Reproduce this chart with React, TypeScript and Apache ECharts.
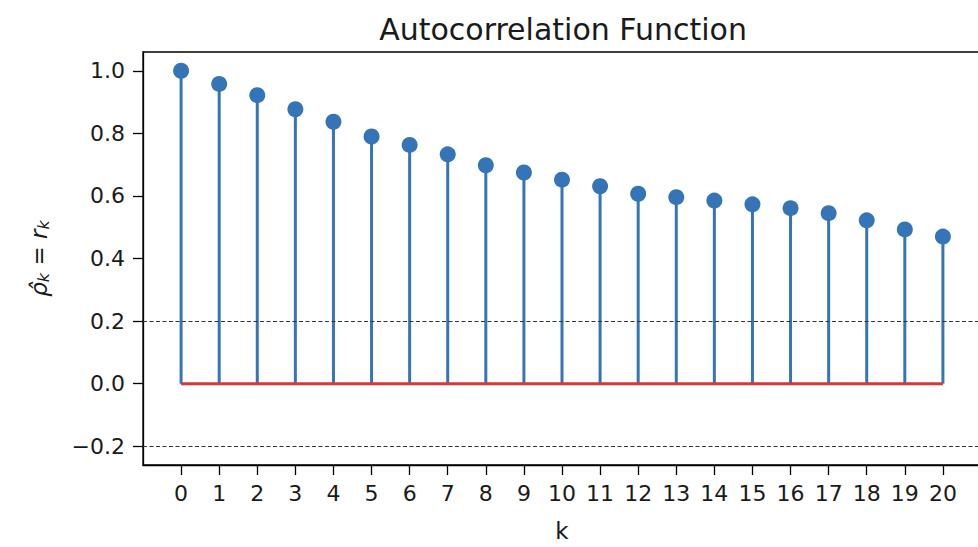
import React, { useEffect, useRef } from "react";
import * as echarts from "echarts";

// Sample autocorrelation r_k for lags 0..20
const lags: number[] = [0, 1, 2, 3, 4, 5, 6, 7, 8, 9, 10, 11, 12, 13, 14, 15, 16, 17, 18, 19, 20];
const acf: number[] = [
  1.0, 0.958, 0.922, 0.877, 0.837, 0.79, 0.763, 0.733, 0.698, 0.675, 0.652,
  0.631, 0.607, 0.596, 0.585, 0.573, 0.561, 0.545, 0.522, 0.493, 0.47,
];
// Reference bands drawn as dashed horizontal lines
const bands: number[] = [0.2, -0.2];
const yTicks: number[] = [-0.2, 0.0, 0.2, 0.4, 0.6, 0.8, 1.0];

const FONT = "DejaVu Sans";
const TEXT = "#1a1a1a";
const STEM = "#3574b6";
const BASE = "#d43a33";

export default function App() {
  const ref = useRef<HTMLDivElement | null>(null);

  useEffect(() => {
    if (!ref.current) return;
    const chart = echarts.init(ref.current, undefined, { renderer: "svg" });

    const points = lags.map((k, i) => [k, acf[i]]);
    const baseline = [
      [lags[0], 0],
      [lags[lags.length - 1], 0],
    ];

    chart.setOption({
      animation: false,
      title: {
        text: "Autocorrelation Function",
        left: 558,
        top: 9,
        textAlign: "center",
        textStyle: { fontFamily: FONT, fontSize: 30, fontWeight: "normal", color: TEXT },
      },
      grid: {
        left: 143,
        top: 52,
        right: 0,
        bottom: 79,
        show: true,
        borderColor: "#000",
        borderWidth: 1.3,
        backgroundColor: "transparent",
      },
      xAxis: {
        type: "value",
        min: -1,
        max: 21,
        interval: 1,
        name: "k",
        nameLocation: "middle",
        nameGap: 54,
        nameTextStyle: { fontFamily: FONT, fontSize: 23, color: TEXT },
        axisLine: { show: true, onZero: false, lineStyle: { color: "#000", width: 1.3 } },
        axisTick: { show: true, length: 10, customValues: lags, lineStyle: { color: "#000", width: 1.3 } },
        axisLabel: {
          customValues: lags,
          margin: 17,
          fontFamily: FONT,
          fontSize: 22,
          color: TEXT,
        },
        splitLine: { show: false },
      },
      yAxis: {
        type: "value",
        min: -0.26,
        max: 1.06,
        name: "{i|ρ̂}{s|k}{n| = }{i|r}{s|k}",
        nameLocation: "middle",
        nameGap: 92,
        nameRotate: 90,
        nameTextStyle: {
          fontFamily: FONT,
          fontSize: 23,
          color: TEXT,
          rich: {
            i: { fontFamily: FONT, fontSize: 23, fontStyle: "italic", color: TEXT, lineHeight: 24 },
            n: { fontFamily: FONT, fontSize: 23, color: TEXT, lineHeight: 24 },
            s: { fontFamily: FONT, fontSize: 16, fontStyle: "italic", color: TEXT, lineHeight: 16, padding: [8, 0, 0, 0] },
          },
        },
        axisLine: { show: true, onZero: false, lineStyle: { color: "#000", width: 1.3 } },
        axisTick: { show: true, length: 10, customValues: yTicks, lineStyle: { color: "#000", width: 1.3 } },
        axisLabel: {
          customValues: yTicks,
          margin: 18,
          fontFamily: FONT,
          fontSize: 22,
          color: TEXT,
          formatter: (v: number) => v.toFixed(1).replace("-", "\u2212"),
        },
        splitLine: { show: false },
      },
      series: [
        {
          type: "custom",
          z: 2,
          data: points,
          renderItem: (params: any, api: any) => {
            const x = api.value(0);
            const y = api.value(1);
            const p0 = api.coord([x, 0]);
            const p1 = api.coord([x, y]);
            return {
              type: "line",
              shape: { x1: p0[0], y1: p0[1], x2: p1[0], y2: p1[1] },
              style: { stroke: STEM, lineWidth: 3 },
            };
          },
          markLine: {
            silent: true,
            symbol: "none",
            label: { show: false },
            lineStyle: { color: "#333", width: 1, type: [4, 2.5] },
            data: bands.map((b) => ({ yAxis: b })),
          },
        },
        {
          type: "line",
          z: 3,
          data: baseline,
          symbol: "none",
          lineStyle: { color: BASE, width: 3 },
        },
        {
          type: "scatter",
          z: 4,
          data: points,
          symbolSize: 16,
          itemStyle: { color: STEM, opacity: 1 },
        },
      ],
    });

    return () => chart.dispose();
  }, []);

  // The plot frame runs slightly past the right edge of the visible area
  return (
    <div style={{ position: "absolute", left: 0, top: 0, width: 978, height: 547, overflow: "hidden", background: "#fff" }}>
      <div ref={ref} style={{ width: 981, height: 547 }} />
    </div>
  );
}
